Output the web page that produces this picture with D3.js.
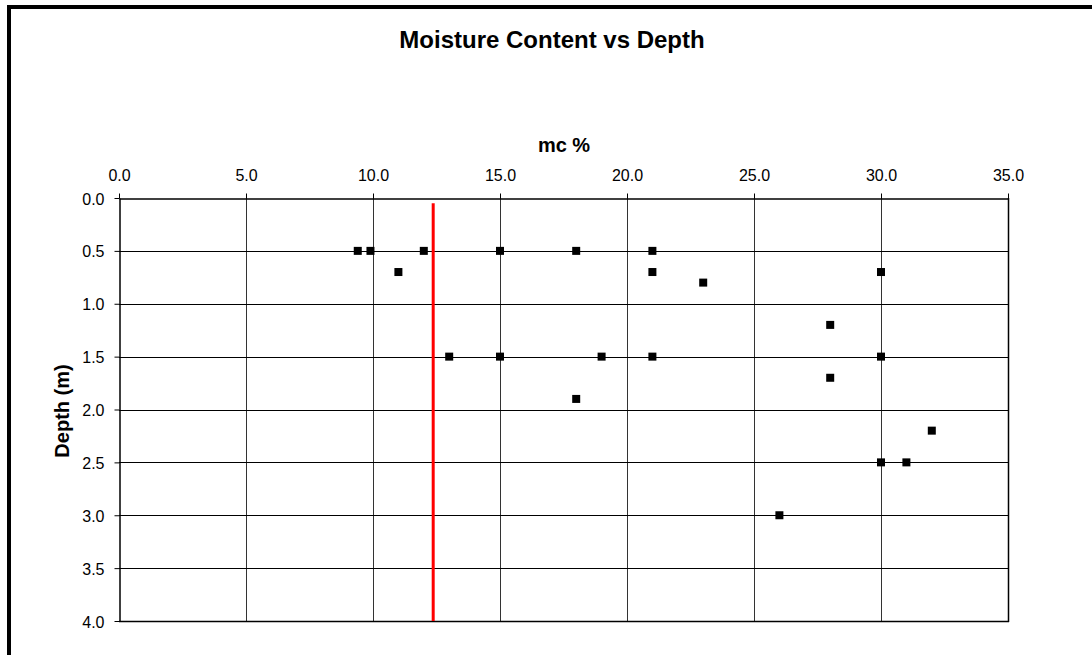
<!DOCTYPE html>
<html><head><meta charset="utf-8">
<script src="https://cdn.jsdelivr.net/npm/d3@7"></script>
<style>body{margin:0;background:#fff}svg{display:block}text{font-family:"Liberation Sans",Arial,sans-serif}</style>
</head><body>
<script>
const mcValues = [9.4, 9.9, 12, 15, 18, 21, 11, 21, 30, 23, 28, 13, 15, 19, 21, 30, 28, 18, 32, 30, 31, 26];
const depthValues = [0.5, 0.5, 0.5, 0.5, 0.5, 0.5, 0.7, 0.7, 0.7, 0.8, 1.2, 1.5, 1.5, 1.5, 1.5, 1.5, 1.7, 1.9, 2.2, 2.5, 2.5, 3.0];
const refLineMc = [12.37, 12.37];
const refLineDepth = [0.05, 4.0];
const xTicks = [0, 5, 10, 15, 20, 25, 30, 35];
const yTicks = [0, 0.5, 1, 1.5, 2, 2.5, 3, 3.5, 4];

const W = 1092, H = 655;
const svg = d3.select("body").append("svg").attr("width", W).attr("height", H);
svg.append("rect").attr("x", 9).attr("y", 7).attr("width", 1200).attr("height", 800)
  .attr("fill", "none").attr("stroke", "#000").attr("stroke-width", 4);

const L = 119, R = 1008, T = 198, B = 621;
const x = d3.scaleLinear().domain([0, 35]).range([L, R]);
const y = d3.scaleLinear().domain([0, 4]).range([T, B]);

// gridlines
svg.append("g").selectAll("line").data(xTicks.slice(1)).join("line")
  .attr("x1", d => Math.round(x(d)) + 0.5).attr("x2", d => Math.round(x(d)) + 0.5)
  .attr("y1", T).attr("y2", B).attr("stroke", "#333").attr("stroke-width", 1);
svg.append("g").selectAll("line").data(yTicks.slice(1)).join("line")
  .attr("x1", L).attr("x2", R)
  .attr("y1", d => Math.round(y(d)) + 0.5).attr("y2", d => Math.round(y(d)) + 0.5)
  .attr("stroke", "#000").attr("stroke-width", 1);

// axes
const xAxis = d3.axisTop(x).tickValues(xTicks).tickFormat(d3.format(".1f")).tickSizeInner(5).tickSizeOuter(0).tickPadding(13);
const gx = svg.append("g").attr("transform", `translate(0,${T + 0.5})`).call(xAxis);
const yAxis = d3.axisLeft(y).tickValues(yTicks).tickFormat(d3.format(".1f")).tickSizeInner(5).tickSizeOuter(0).tickPadding(10);
const gy = svg.append("g").attr("transform", `translate(${L + 0.5},0)`).call(yAxis);
[gx, gy].forEach(g => {
  g.attr("font-size", null).attr("font-family", null);
  g.selectAll("path").attr("stroke", "#000").attr("stroke-width", 1.5);
  g.selectAll("line").attr("stroke", "#000");
  g.selectAll("text").style("font-size", "16px").attr("fill", "#000");
});
gy.selectAll("text").attr("dy", "0.38em");
// right and bottom frame of plot
svg.append("line").attr("x1", R + 0.5).attr("x2", R + 0.5).attr("y1", T).attr("y2", B + 1).attr("stroke", "#000").attr("stroke-width", 1.5);
svg.append("line").attr("x1", L).attr("x2", R + 1).attr("y1", B + 0.5).attr("y2", B + 0.5).attr("stroke", "#000").attr("stroke-width", 1.5);

// red reference line
svg.append("line").attr("x1", x(refLineMc[0])).attr("x2", x(refLineMc[1]))
  .attr("y1", y(refLineDepth[0])).attr("y2", y(refLineDepth[1]))
  .attr("stroke", "#ff0000").attr("stroke-width", 3);

// points
const pts = mcValues.map((v, i) => ({mc: v, d: depthValues[i]}));
svg.append("g").selectAll("rect").data(pts).join("rect")
  .attr("x", d => x(d.mc) - 4).attr("y", d => y(d.d) - 4)
  .attr("width", 8).attr("height", 8).attr("fill", "#000");

// titles
svg.append("text").attr("x", 552).attr("y", 48).attr("text-anchor", "middle")
  .style("font-size", "24px").attr("font-weight", "bold").text("Moisture Content vs Depth");
svg.append("text").attr("x", 564).attr("y", 152).attr("text-anchor", "middle")
  .style("font-size", "20px").attr("font-weight", "bold").text("mc %");
svg.append("text").attr("transform", `translate(69,411) rotate(-90)`).attr("text-anchor", "middle")
  .style("font-size", "20px").attr("font-weight", "bold").text("Depth (m)");
</script>
</body></html>
